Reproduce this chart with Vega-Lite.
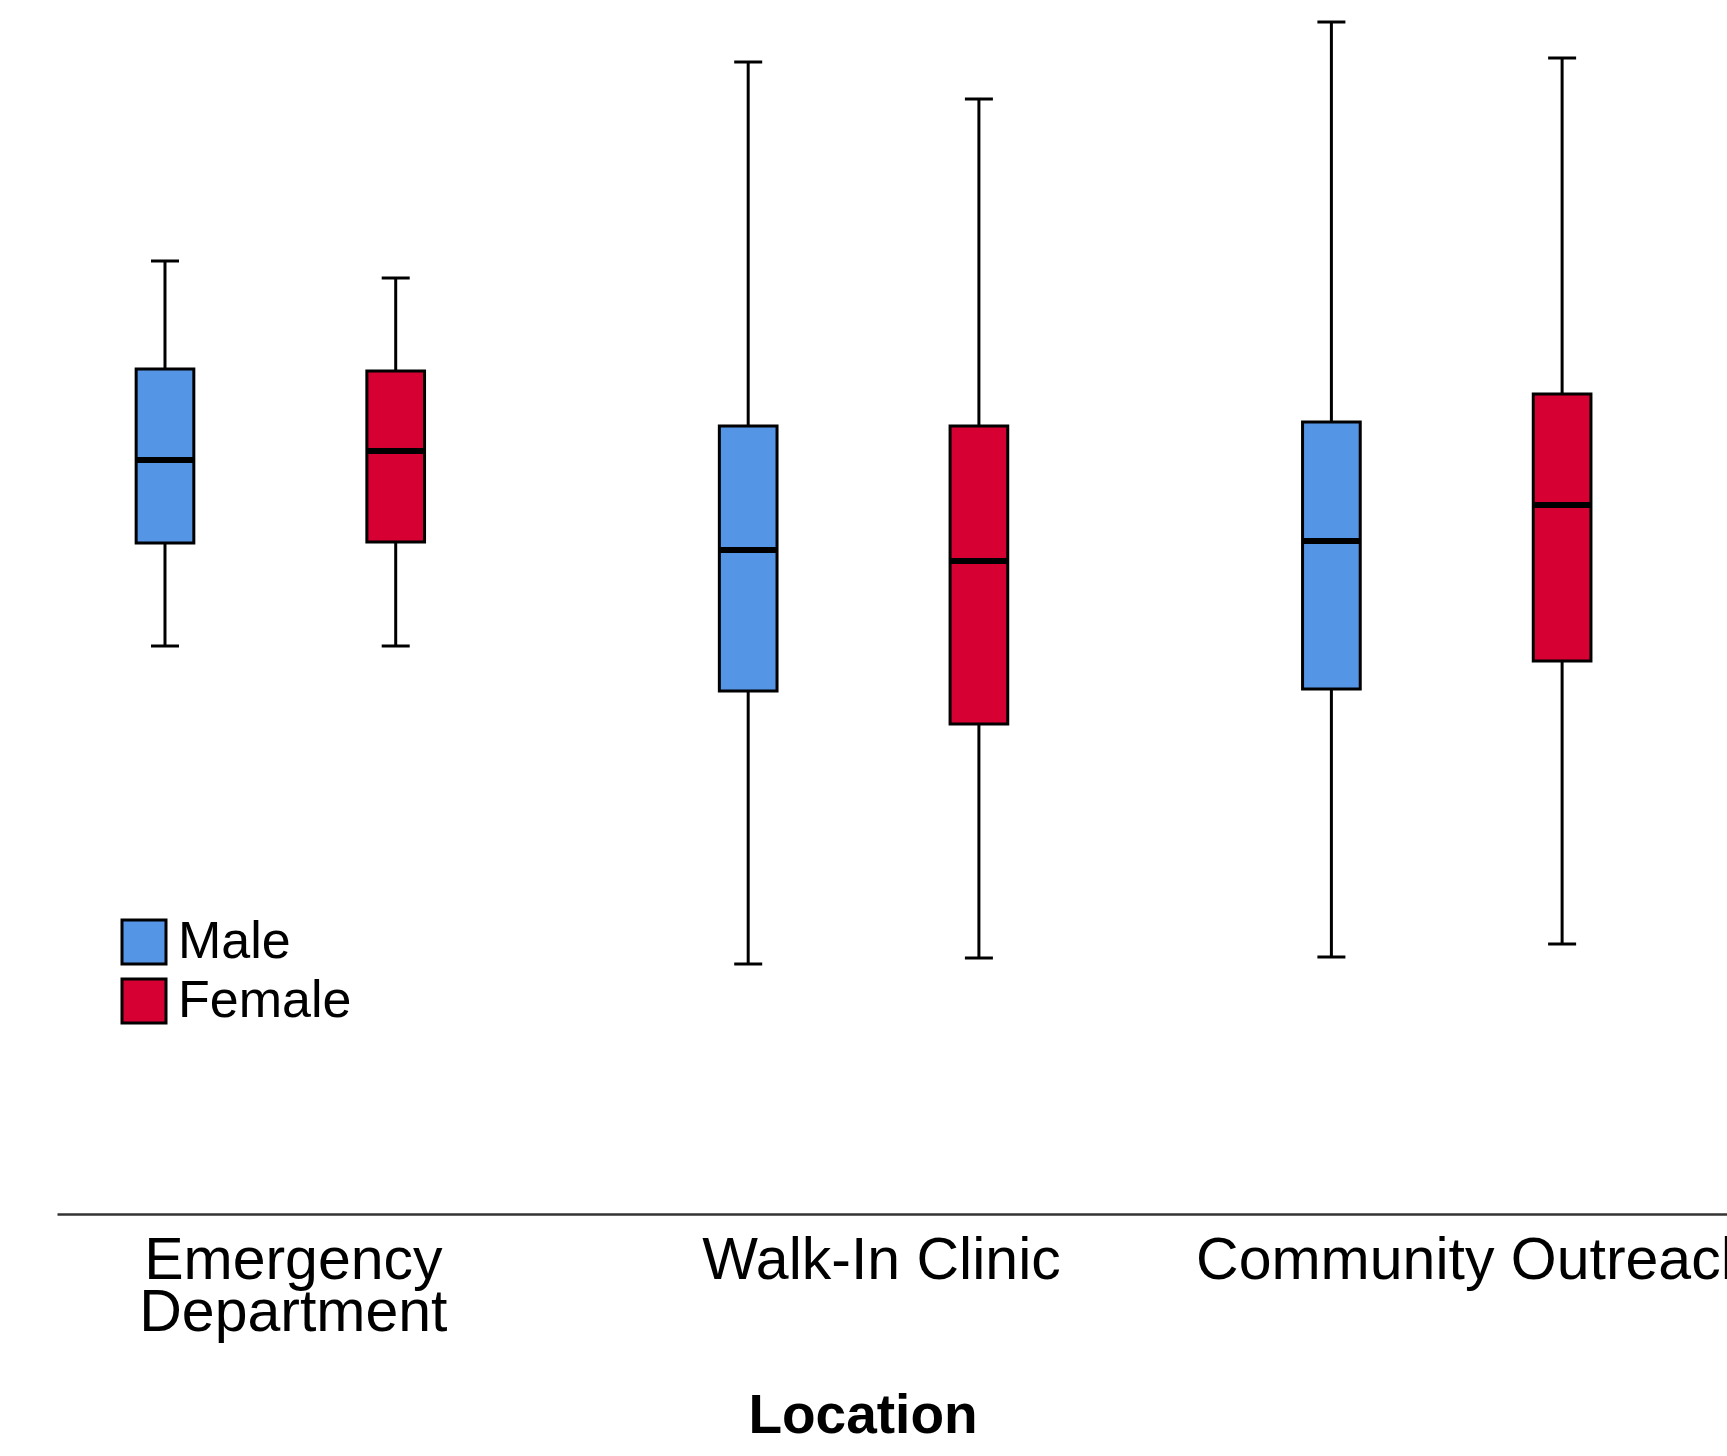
{
  "$schema": "https://vega.github.io/schema/vega-lite/v6.json",
  "width": 1670,
  "height": 1214,
  "autosize": "none",
  "padding": {"left": 57, "top": 0, "right": 0, "bottom": 242},
  "background": "white",
  "config": {
    "view": {"stroke": null},
    "font": "Liberation Sans"
  },
  "data": {
    "values": [
      {"Location": "Emergency Department", "Sex": "Male", "lower": 56.8, "q1": 67.1, "median": 75.4, "q3": 84.5, "upper": 95.3},
      {"Location": "Emergency Department", "Sex": "Female", "lower": 56.8, "q1": 67.2, "median": 76.3, "q3": 84.3, "upper": 93.6},
      {"Location": "Walk-In Clinic", "Sex": "Male", "lower": 25.0, "q1": 52.3, "median": 66.4, "q3": 78.8, "upper": 115.2},
      {"Location": "Walk-In Clinic", "Sex": "Female", "lower": 25.6, "q1": 49.0, "median": 65.3, "q3": 78.8, "upper": 111.5},
      {"Location": "Community Outreach", "Sex": "Male", "lower": 25.7, "q1": 52.5, "median": 67.3, "q3": 79.2, "upper": 119.2},
      {"Location": "Community Outreach", "Sex": "Female", "lower": 27.0, "q1": 55.3, "median": 70.9, "q3": 82.0, "upper": 115.6}
    ]
  },
  "encoding": {
    "x": {
      "field": "Location",
      "type": "nominal",
      "sort": ["Emergency Department", "Walk-In Clinic", "Community Outreach"],
      "scale": {"paddingInner": 0.5055, "paddingOuter": 0.1845, "align": 0.3678},
      "axis": {
        "title": "Location",
        "titleFont": "Liberation Sans",
        "titleFontSize": 55,
        "titleFontWeight": "bold",
        "titleColor": "black",
        "titleX": 805.5,
        "titleY": 218,
        "titleBaseline": "alphabetic",
        "titleAnchor": "middle",
        "titleAlign": "center",
        "labelFont": "Liberation Sans",
        "labelFontSize": 59,
        "labelColor": "black",
        "labelAngle": 0,
        "labelBaseline": "alphabetic",
        "labelPadding": 64,
        "labelOffset": {
          "condition": [
            {"test": "datum.value === 'Walk-In Clinic'", "value": 18},
            {"test": "datum.value === 'Community Outreach'", "value": 28}
          ],
          "value": 13
        },
        "labelLineHeight": 52,
        "labelOverlap": false,
        "labelBound": false,
        "labelFlush": false,
        "labelLimit": 0,
        "labelExpr": "datum.label == 'Emergency Department' ? ['Emergency', 'Department'] : datum.label",
        "ticks": false,
        "tickSize": 0,
        "domain": true,
        "domainColor": "#333333",
        "domainWidth": 2.5,
        "grid": false
      }
    },
    "xOffset": {
      "field": "Sex",
      "type": "nominal",
      "sort": ["Male", "Female"],
      "scale": {"paddingInner": 0.75, "paddingOuter": 0}
    }
  },
  "layer": [
    {
      "mark": {"type": "rule", "color": "black", "strokeWidth": 3, "opacity": 1},
      "encoding": {
        "y": {"field": "lower", "type": "quantitative", "scale": {"domain": [0, 121.4], "nice": false, "zero": false}, "axis": null},
        "y2": {"field": "upper"}
      }
    },
    {
      "mark": {"type": "tick", "color": "black", "thickness": 3, "size": 28, "opacity": 1},
      "encoding": {
        "y": {"field": "upper", "type": "quantitative"}
      }
    },
    {
      "mark": {"type": "tick", "color": "black", "thickness": 3, "size": 28, "opacity": 1},
      "encoding": {
        "y": {"field": "lower", "type": "quantitative"}
      }
    },
    {
      "mark": {"type": "bar", "stroke": "black", "strokeWidth": 3, "opacity": 1},
      "encoding": {
        "y": {"field": "q1", "type": "quantitative"},
        "y2": {"field": "q3"},
        "fill": {
          "field": "Sex",
          "type": "nominal",
          "scale": {"domain": ["Male", "Female"], "range": ["#5495e6", "#d70033"]},
          "legend": {
            "title": null,
            "orient": "none",
            "legendX": 61,
            "legendY": 916,
            "symbolType": "square",
            "symbolSize": 1936,
            "symbolStrokeColor": "black",
            "symbolStrokeWidth": 3,
            "symbolOpacity": 1,
            "labelFont": "Liberation Sans",
            "labelFontSize": 52,
            "labelColor": "black",
            "labelOffset": 8,
            "labelLimit": 0,
            "rowPadding": 3,
            "padding": 0
          }
        }
      }
    },
    {
      "mark": {"type": "tick", "color": "black", "thickness": 6, "size": 56, "opacity": 1},
      "encoding": {
        "y": {"field": "median", "type": "quantitative"}
      }
    }
  ]
}
